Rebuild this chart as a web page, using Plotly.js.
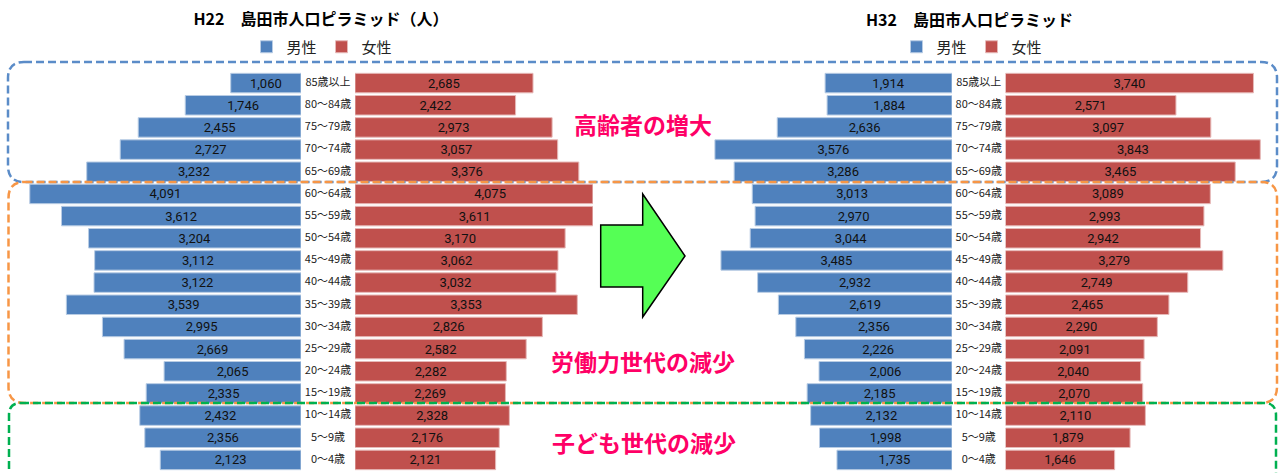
<!DOCTYPE html>
<html><head><meta charset="utf-8">
<script src="https://cdn.plot.ly/plotly-3.0.1.min.js"></script>
<style>html,body{margin:0;padding:0;background:#fff;}#chart{width:1279px;height:473px;}</style>
</head><body><div id="chart"></div>
<script>
const ageGroups = ['85歳以上','80～84歳','75～79歳','70～74歳','65～69歳','60～64歳','55～59歳','50～54歳','45～49歳','40～44歳','35～39歳','30～34歳','25～29歳','20～24歳','15～19歳','10～14歳','5～9歳','0～4歳'];
const h22Male   = [1060,1746,2455,2727,3232,4091,3612,3204,3112,3122,3539,2995,2669,2065,2335,2432,2356,2123];
const h22Female = [2685,2422,2973,3057,3376,4075,3611,3170,3062,3032,3353,2826,2582,2282,2269,2328,2176,2121];
const h32Male   = [1914,1884,2636,3576,3286,3013,2970,3044,3485,2932,2619,2356,2226,2006,2185,2132,1998,1735];
const h32Female = [3740,2571,3097,3843,3465,3089,2993,2942,3279,2749,2465,2290,2091,2040,2070,2110,1879,1646];
const seriesNames = ['男性','女性'];
const chartTitles = ['H22　島田市人口ピラミッド（人）','H32　島田市人口ピラミッド'];
const noteTexts = ['高齢者の増大','労働力世代の減少','子ども世代の減少'];

const W = 1279, H = 473;
const px = x => x / W;
const py = y => 1 - y / H;
const K = 0.0663; // pixels per person
const FONT = '"Noto Sans CJK JP", "Noto Sans", sans-serif';
const NUMFONT = '"Liberation Sans Narrow", "Roboto", "Noto Sans CJK JP", sans-serif';
const MALE = '#4F81BD', FEMALE = '#C0504D';

function barTrace(vals, name, color, lineColor, xa, legend, showLeg) {
  return {
    type: 'bar', orientation: 'h', x: vals, y: ageGroups, name: name,
    xaxis: xa, yaxis: 'y', legend: legend, showlegend: showLeg,
    marker: {color: color, line: {color: lineColor, width: 1}},
    texttemplate: '%{x:,d}', textposition: 'inside', insidetextanchor: 'middle',
    constraintext: 'none', textangle: 0,
    textfont: {family: NUMFONT, size: 13, color: '#111'},
    hoverinfo: 'skip'
  };
}
function labelTrace(xa) {
  return {
    type: 'scatter', mode: 'text', x: ageGroups.map(() => 0), y: ageGroups,
    text: ageGroups, xaxis: xa, yaxis: 'y', showlegend: false, hoverinfo: 'skip',
    cliponaxis: false, textposition: 'middle center',
    textfont: {family: FONT, size: 11, color: '#222'}
  };
}

const data = [
  barTrace(h22Male, seriesNames[0], MALE, '#B8CCE4', 'x', 'legend', true),
  barTrace(h22Female, seriesNames[1], FEMALE, '#E6B9B8', 'x2', 'legend', true),
  labelTrace('x3'),
  barTrace(h32Male, seriesNames[0], MALE, '#B8CCE4', 'x4', 'legend2', true),
  barTrace(h32Female, seriesNames[1], FEMALE, '#E6B9B8', 'x5', 'legend2', true),
  labelTrace('x6')
];

function hid(extra) {
  return Object.assign({showgrid: false, zeroline: false, showticklabels: false, showline: false, ticks: '', fixedrange: true}, extra);
}

function roundRect(x0, y0, x1, y1, r) {
  return `M${px(x0 + r)},${py(y0)} L${px(x1 - r)},${py(y0)} Q${px(x1)},${py(y0)} ${px(x1)},${py(y0 + r)} ` +
    `L${px(x1)},${py(y1 - r)} Q${px(x1)},${py(y1)} ${px(x1 - r)},${py(y1)} L${px(x0 + r)},${py(y1)} ` +
    `Q${px(x0)},${py(y1)} ${px(x0)},${py(y1 - r)} L${px(x0)},${py(y0 + r)} Q${px(x0)},${py(y0)} ${px(x0 + r)},${py(y0)} Z`;
}
const arrowPts = [[600.7,225],[642.7,225],[642.7,194],[685,256],[642.7,317],[642.7,287],[600.7,287]];
const arrowPath = 'M' + arrowPts.map(p => `${px(p[0])},${py(p[1])}`).join(' L') + ' Z';

const shapes = [
  {type: 'path', xref: 'paper', yref: 'paper', path: roundRect(8, 62, 1277, 182, 16), line: {color: '#5B8CC8', width: 2.5, dash: '8px,4px'}},
  {type: 'path', xref: 'paper', yref: 'paper', path: roundRect(8.5, 182, 1277, 403, 16), line: {color: '#F79646', width: 2.5, dash: '8px,4px'}},
  {type: 'path', xref: 'paper', yref: 'paper', path: roundRect(9, 403, 1276, 520, 12), line: {color: '#00B050', width: 2.5, dash: '8px,4px'}},
  {type: 'path', xref: 'paper', yref: 'paper', path: arrowPath, fillcolor: '#55FF55', line: {color: '#000', width: 1.5}}
];

const noteStyle = {family: FONT, size: 23, color: '#FF0066', weight: 'bold'};
const annotations = [
  {xref: 'paper', yref: 'paper', x: px(970), y: py(19), text: '<b>' + chartTitles[1] + '</b>', showarrow: false,
   xanchor: 'center', yanchor: 'middle', font: {family: FONT, size: 16, color: '#000'}},
  {xref: 'paper', yref: 'paper', x: px(643), y: py(124), text: '<b>' + noteTexts[0] + '</b>', showarrow: false, xanchor: 'center', yanchor: 'middle', font: noteStyle},
  {xref: 'paper', yref: 'paper', x: px(643), y: py(361), text: '<b>' + noteTexts[1] + '</b>', showarrow: false, xanchor: 'center', yanchor: 'middle', font: noteStyle},
  {xref: 'paper', yref: 'paper', x: px(644), y: py(442), text: '<b>' + noteTexts[2] + '</b>', showarrow: false, xanchor: 'center', yanchor: 'middle', font: noteStyle}
];

const legendBase = {orientation: 'h', yanchor: 'middle', xanchor: 'center', font: {family: FONT, size: 15, color: '#222'},
  bgcolor: 'rgba(0,0,0,0)', itemwidth: 30, traceorder: 'normal'};

const layout = {
  width: W, height: H, margin: {l: 0, r: 0, t: 0, b: 0, pad: 0},
  paper_bgcolor: '#fff', plot_bgcolor: 'rgba(0,0,0,0)',
  font: {family: FONT},
  title: {text: '<b>' + chartTitles[0] + '</b>', x: px(321), xref: 'paper', xanchor: 'center', y: py(19), yref: 'container', yanchor: 'middle',
    font: {family: FONT, size: 16, color: '#000'}},
  showlegend: true,
  legend: Object.assign({}, legendBase, {x: px(322), y: py(47)}),
  legend2: Object.assign({}, legendBase, {x: px(972), y: py(47)}),
  bargap: 0.12,
  xaxis: hid({domain: [0, px(301)], range: [301 / K, 0]}),
  xaxis2: hid({domain: [px(355), px(592.6)], range: [0, 237.6 / K], anchor: 'y'}),
  xaxis3: hid({domain: [px(301), px(355)], range: [-1, 1], anchor: 'y'}),
  xaxis4: hid({domain: [px(700), px(952)], range: [252 / K, 0], anchor: 'y'}),
  xaxis5: hid({domain: [px(1005.5), px(1275)], range: [0, 269.5 / K], anchor: 'y'}),
  xaxis6: hid({domain: [px(952), px(1005.5)], range: [-1, 1], anchor: 'y'}),
  yaxis: hid({domain: [1 - 471 / H, 1 - 72 / H], type: 'category', autorange: false,
    range: [ageGroups.length - 0.5, -0.5]}),
  shapes: shapes,
  annotations: annotations
};

Plotly.newPlot('chart', data, layout, {displayModeBar: false, staticPlot: true});
</script></body></html>
